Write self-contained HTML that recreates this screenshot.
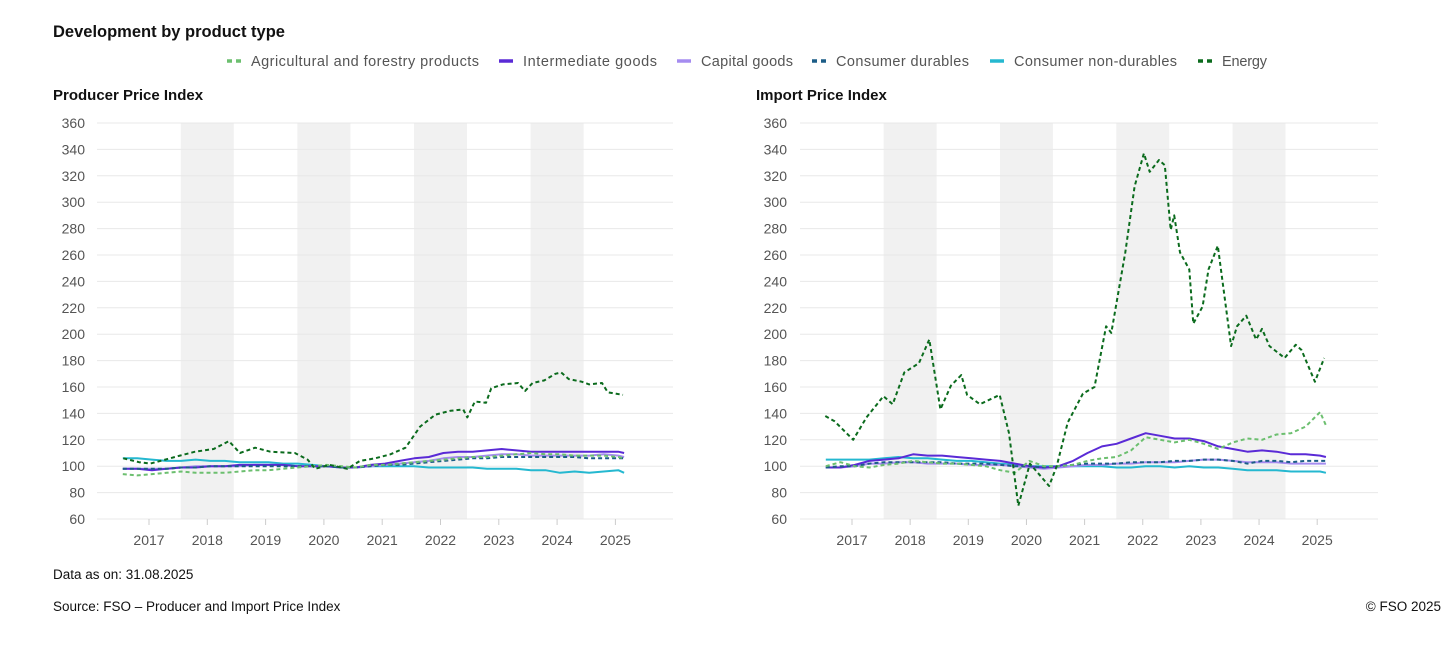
<!DOCTYPE html>
<html><head><meta charset="utf-8">
<style>
body{margin:0;background:#fff;font-family:"Liberation Sans",sans-serif;}
svg text{font-family:"Liberation Sans",sans-serif;}
</style></head>
<body>
<svg id="c" width="1456" height="650" viewBox="0 0 1456 650">
<rect width="1456" height="650" fill="#fff"/>
<text x="53" y="37" font-size="16.5" font-weight="bold" fill="#111">Development by product type</text>
<g id="legend"></g>
<text x="53" y="100" font-size="15" font-weight="bold" fill="#111">Producer Price Index</text>
<text x="756" y="100" font-size="15" font-weight="bold" fill="#111">Import Price Index</text>
<g id="left"></g>
<g id="right"></g>
<text x="53" y="579" font-size="13.5" fill="#111">Data as on: 31.08.2025</text>
<text x="53" y="611" font-size="13.5" fill="#111">Source: FSO – Producer and Import Price Index</text>
<text x="1441" y="611" font-size="13.5" fill="#111" text-anchor="end">© FSO 2025</text>
</svg>
<script>
const NS="http://www.w3.org/2000/svg";
const yTicks=[60,80,100,120,140,160,180,200,220,240,260,280,300,320,340,360];
const yearTicks=[2017,2018,2019,2020,2021,2022,2023,2024,2025];
const bandYears=[2018,2020,2022,2024];
const dates=[2016.55,2016.8,2017.05,2017.3,2017.55,2017.8,2018.05,2018.3,2018.55,2018.8,2019.05,2019.3,2019.55,2019.8,2020.05,2020.3,2020.55,2020.8,2021.05,2021.3,2021.55,2021.8,2022.05,2022.3,2022.55,2022.8,2023.05,2023.3,2023.55,2023.8,2024.05,2024.3,2024.55,2024.8,2025.05,2025.15];
// Producer price index
const ppiAgri=[94,93,94,95,96,95,95,95,96,97,97,98,99,100,101,100,99,101,101,102,103,104,105,106,107,107,108,109,110,109,109,108,108,108,107,106];
const ppiInter=[98,98,97,98,99,99,100,100,101,101,101,101,100,100,100,99,99,101,102,104,106,107,110,111,111,112,113,112,111,111,111,111,111,111,111,110];
const ppiCapital=[98,98,98,98,99,100,100,100,100,101,101,101,100,100,100,99,99,100,101,102,103,104,106,107,107,108,109,109,108,108,108,108,108,109,108,107];
const ppiDurables=[98,98,98,98,99,99,100,100,100,100,100,100,100,100,100,99,99,100,101,101,102,103,104,105,106,106,107,107,107,107,107,107,106,106,106,106];
const ppiNonDur=[106,106,105,104,104,105,104,104,103,103,103,102,102,101,100,99,99,100,100,100,100,99,99,99,99,98,98,98,97,97,95,96,95,96,97,95];
const ppiEnergyDates=[2016.56,2016.83,2017.02,2017.28,2017.53,2017.79,2018.11,2018.37,2018.56,2018.82,2019.08,2019.5,2019.72,2019.85,2020.1,2020.4,2020.62,2020.88,2021.14,2021.4,2021.65,2021.91,2022.17,2022.39,2022.46,2022.59,2022.78,2022.87,2023.07,2023.33,2023.45,2023.58,2023.78,2023.97,2024.07,2024.2,2024.42,2024.55,2024.77,2024.87,2025.13];
const ppiEnergy=[106,103,102,105,108,111,113,119,110,114,111,110,105,98,101,98,104,106,109,114,130,139,142,143,137,149,148,159,162,163,157,163,165,170,171,166,164,162,163,156,154];
// Import price index
const ipiAgri=[100,103,100,99,101,102,104,103,102,102,101,100,97,95,104,100,100,101,104,106,107,112,122,120,118,120,117,113,118,121,120,124,125,130,141,131];
const ipiInter=[99,99,101,104,105,106,109,108,108,107,106,105,104,102,100,99,100,104,110,115,117,121,125,123,121,121,119,115,113,111,112,111,109,109,108,107];
const ipiCapital=[99,99,100,102,102,103,103,102,102,102,101,101,101,100,99,98,99,100,101,101,102,102,103,103,103,104,105,105,104,103,103,103,102,102,102,102];
const ipiDurables=[99,100,100,102,103,103,103,103,103,102,102,102,101,100,100,99,100,101,102,102,102,103,103,103,104,104,105,105,104,102,104,104,103,104,104,104];
const ipiNonDur=[105,105,105,105,106,107,106,106,105,104,104,103,102,101,100,100,100,100,100,100,99,99,100,100,99,100,99,99,98,97,97,97,96,96,96,95];
const ipiEnergyDates=[2016.54,2016.7,2017.02,2017.25,2017.54,2017.7,2017.9,2018.15,2018.33,2018.52,2018.7,2018.88,2018.98,2019.2,2019.54,2019.7,2019.86,2020.06,2020.39,2020.52,2020.71,2020.97,2021.17,2021.37,2021.46,2021.7,2021.86,2022.02,2022.12,2022.28,2022.38,2022.48,2022.54,2022.64,2022.8,2022.87,2023.03,2023.13,2023.29,2023.52,2023.62,2023.78,2023.95,2024.05,2024.18,2024.44,2024.63,2024.73,2024.96,2025.12];
const ipiEnergy=[138,134,120,137,153,147,171,178,196,143,161,169,154,147,154,125,70,102,85,100,133,155,160,206,201,262,312,337,323,332,328,279,290,262,249,208,221,249,267,191,206,214,196,204,191,182,192,188,164,182];

const styles={
 agri:{c:"#6cbf6f",d:"4,3",w:2},
 inter:{c:"#5a2ad6",d:"",w:2},
 capital:{c:"#a58cf0",d:"",w:2},
 durables:{c:"#1c5d87",d:"4,3",w:2},
 nondur:{c:"#25b8d0",d:"",w:2},
 energy:{c:"#0b6b1d",d:"4,3",w:2}
};
function el(tag,attrs,parent){const e=document.createElementNS(NS,tag);for(const k in attrs)e.setAttribute(k,attrs[k]);parent.appendChild(e);return e;}

// legend: [key, label, text x, text width]
const legItems=[["agri","Agricultural and forestry products",251,228],["inter","Intermediate goods",523,134],["capital","Capital goods",701,92],["durables","Consumer durables",836,133],["nondur","Consumer non-durables",1014,163],["energy","Energy",1222,45]];
const lg=document.getElementById('legend');
legItems.forEach(it=>{
 const s=styles[it[0]];
 const l=el('line',{x1:it[2]-24,x2:it[2]-10,y1:61,y2:61,stroke:s.c,'stroke-width':3.5,'stroke-dasharray':s.d?"5,4":""},lg);
 
 
 const t=el('text',{x:it[2],y:66,'font-size':14.5,fill:'#555',textLength:it[3],lengthAdjust:'spacing'},lg);
 t.textContent=it[1];
 
 
});

function chart(gid,x0,y2017,pxYear,xEnd,labelX,series,prefix){
 const g=document.getElementById(gid);
 const X=d=>y2017+(d-2017)*pxYear;
 const Y=v=>519-(v-60)*396/300;
 bandYears.forEach(b=>{
  const r=el('rect',{x:X(b-0.455),y:123,width:0.91*pxYear,height:396,fill:'#f1f1f1'},g);
  
  
 });
 yTicks.forEach(v=>{
  const l=el('line',{x1:x0,x2:xEnd,y1:Y(v),y2:Y(v),stroke:'#e8e8e8','stroke-width':1},g);
  
  
  const t=el('text',{x:labelX,y:Y(v)+5,'font-size':14,fill:'#555','text-anchor':'end'},g);
  t.textContent=v;
  
  
 });
 yearTicks.forEach(yr=>{
  const l=el('line',{x1:X(yr),x2:X(yr),y1:519,y2:525,stroke:'#ccc'},g);
  
  
  const t=el('text',{x:X(yr),y:545,'font-size':14,fill:'#555','text-anchor':'middle'},g);
  t.textContent=yr;
  
  
 });
 series.forEach(s=>{
  const st=styles[s[0]];
  const pts=s[2].map((v,i)=>X(s[1][i]).toFixed(1)+','+Y(v).toFixed(1)).join(' ');
  const p=el('polyline',{points:pts,fill:'none',stroke:st.c,'stroke-width':st.w,'stroke-dasharray':st.d,'stroke-linejoin':'round'},g);
  
  
 });
}
chart('left',97,149,58.3,673,85,[
 ["nondur",dates,ppiNonDur],["capital",dates,ppiCapital],["inter",dates,ppiInter],["durables",dates,ppiDurables],["agri",dates,ppiAgri],["energy",ppiEnergyDates,ppiEnergy]],'ppi');
chart('right',800,852,58.15,1378,787,[
 ["nondur",dates,ipiNonDur],["capital",dates,ipiCapital],["inter",dates,ipiInter],["durables",dates,ipiDurables],["agri",dates,ipiAgri],["energy",ipiEnergyDates,ipiEnergy]],'ipi');
</script>
</body></html>
